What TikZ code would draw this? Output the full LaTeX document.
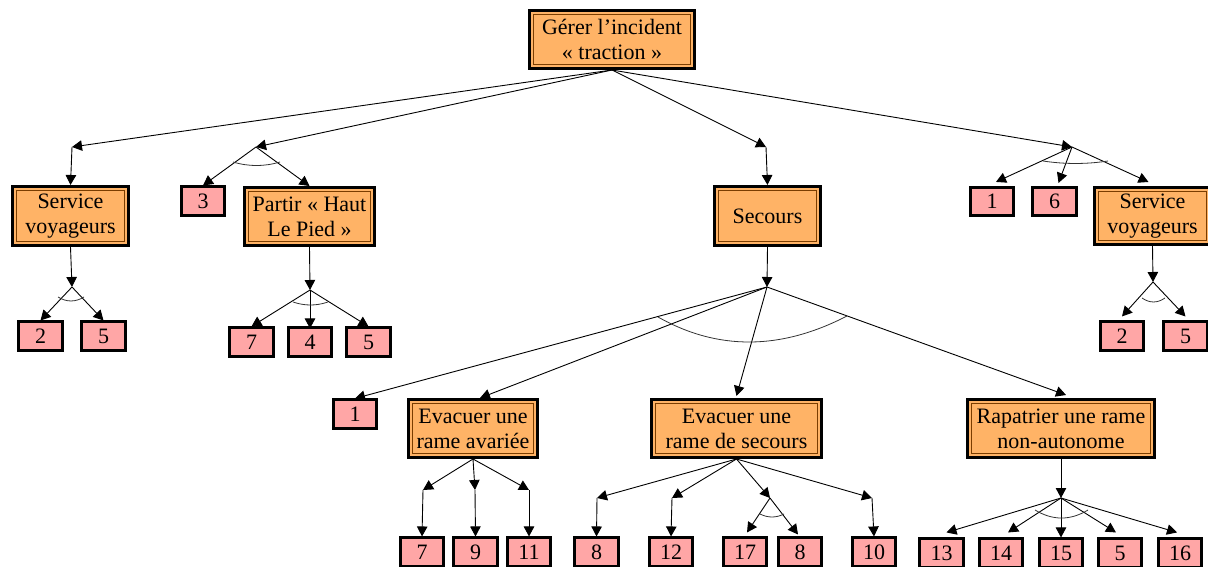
\documentclass[tikz,border=0pt]{standalone}
\usepackage{fontspec}
\setmainfont{Liberation Serif}
\usetikzlibrary{arrows.meta}
\definecolor{orng}{HTML}{FFB366}
\definecolor{pnk}{HTML}{FFA6A6}
\definecolor{brn}{HTML}{7A3D00}
\tikzset{
  obox/.style={draw=black, line width=3pt, fill=orng, inner sep=0pt, align=center,
    font=\fontsize{22}{25}\selectfont,
    path picture={\draw[brn, line width=0.9pt]
      ([shift={(4pt,-4pt)}]path picture bounding box.north west) rectangle
      ([shift={(-4pt,4pt)}]path picture bounding box.south east);}},
  pbox/.style={draw=black, line width=2.6pt, fill=pnk, inner sep=0pt,
    minimum width=43.5pt, minimum height=28.5pt, font=\fontsize{22}{25}\selectfont},
  conn/.style={line width=0.9pt, draw=black},
  arr/.style={conn, -{Triangle[length=10pt,width=10.5pt]}},
  andarc/.style={line width=0.8pt, draw=black!80}
}
\begin{document}
\begin{tikzpicture}[x=1pt,y=-1pt]
\useasboundingbox (0,0) rectangle (1208,567);
% main boxes
\node[obox, minimum width=165pt, minimum height=58pt] (root) at (612,39.5) {Gérer l’incident\\« traction »};
\node[obox, minimum width=116pt, minimum height=59pt] (svL) at (70.5,216) {Service\\voyageurs};
\node[obox, minimum width=130pt, minimum height=58pt] (partir) at (309.5,216.5) {Partir « Haut\\Le Pied »};
\node[obox, minimum width=106pt, minimum height=59pt] (secours) at (767.5,216) {Secours};
\node[obox, minimum width=116pt, minimum height=57pt] (svR) at (1152.5,216) {Service\\voyageurs};
\node[obox, minimum width=129pt, minimum height=58pt] (evA) at (473,428.5) {Evacuer une\\rame avariée};
\node[obox, minimum width=170pt, minimum height=58pt] (evS) at (736.5,428.5) {Evacuer une\\rame de secours};
\node[obox, minimum width=187pt, minimum height=58pt] (rap) at (1061,428.5) {Rapatrier une rame\\non-autonome};
% leaf boxes
\node[pbox] (n3) at (203,201) {3};
\node[pbox] (r1) at (992,201.5) {1};
\node[pbox] (r6) at (1054.5,201.5) {6};
\node[pbox] (L2) at (40.5,336) {2};
\node[pbox] (L5) at (103.5,336) {5};
\node[pbox] (P7) at (251.5,342) {7};
\node[pbox] (P4) at (310,342) {4};
\node[pbox] (P5) at (368.5,342) {5};
\node[pbox] (R2) at (1122,336) {2};
\node[pbox] (R5) at (1185.5,336) {5};
\node[pbox] (S1) at (355,414) {1};
\node[pbox] (A7) at (422,552) {7};
\node[pbox] (A9) at (475.5,552) {9};
\node[pbox] (A11) at (529,552) {11};
\node[pbox] (B8) at (596.5,552) {8};
\node[pbox] (B12) at (671,552) {12};
\node[pbox] (B17) at (745,552) {17};
\node[pbox] (B8b) at (800,552) {8};
\node[pbox] (B10) at (874,552) {10};
\node[pbox] (C13) at (941.5,553) {13};
\node[pbox] (C14) at (1001,553) {14};
\node[pbox] (C15) at (1061,553) {15};
\node[pbox] (C5) at (1120,553) {5};
\node[pbox] (C16) at (1180,553) {16};
% junction points
\coordinate (jSvL) at (72,147);
\coordinate (jP) at (256,147);
\coordinate (jSec) at (766,147);
\coordinate (jR) at (1072,147);
\coordinate (aL) at (72,287);
\coordinate (aP) at (310,290);
\coordinate (aS) at (767,287);
\coordinate (aR) at (1153,282);
\coordinate (a7) at (423,490);
\coordinate (a9) at (475,490);
\coordinate (a11) at (529,490);
\coordinate (b8) at (597,498);
\coordinate (b12) at (672,498);
\coordinate (bA) at (770,498);
\coordinate (b10) at (872,498);
\coordinate (aRap) at (1061,498);
% root connectors
\draw[arr] (root.south) -- (jSvL);
\draw[arr] (root.south) -- (jP);
\draw[arr] (root.south) -- (jSec);
\draw[arr] (root.south) -- (jR);
\draw[arr] (jSvL) -- (svL.north);
\draw[arr] (jP) -- (n3.north);
\draw[arr] (jP) -- (partir.north);
\draw[andarc] (233,162) .. controls (248.7,166.7) and (264.3,166.7) .. (280,162);
\draw[arr] (jSec) -- (secours.north);
\draw[arr] (jR) -- ([xshift=4pt,yshift=4pt]r1.north);
\draw[arr] (jR) -- ([xshift=4pt,yshift=3pt]r6.north);
\draw[arr] (jR) -- ([xshift=-4pt,yshift=4pt]svR.north);
\draw[andarc] (1043,161) .. controls (1064.7,164.3) and (1086.3,164.3) .. (1108,161);
% service voyageurs left
\draw[arr] (svL.south) -- (aL);
\draw[arr] (aL) -- (L2.north);
\draw[arr] (aL) -- (L5.north);
\draw[andarc] (58,297) .. controls (66.7,302.3) and (75.3,302.3) .. (84,297);
% partir
\draw[arr] (partir.south) -- (aP);
\draw[arr] (aP) -- (P7.north);
\draw[arr] (aP) -- ([yshift=-2pt]P4.north);
\draw[arr] (aP) -- (P5.north);
\draw[andarc] (293,302) .. controls (304.7,306) and (316.3,306) .. (328,302);
% service voyageurs right
\draw[arr] (svR.south) -- (aR);
\draw[arr] (aR) -- ([yshift=4pt]R2.north);
\draw[arr] (aR) -- ([yshift=4pt]R5.north);
\draw[andarc] (1142,298) .. controls (1149.7,303.3) and (1157.3,303.3) .. (1165,298);
% secours
\draw[arr] (secours.south) -- (aS);
\draw[arr] (aS) -- (S1.north);
\draw[arr] (aS) -- ([xshift=7pt]evA.north);
\draw[arr] (aS) -- ([yshift=2pt]evS.north);
\draw[arr] (aS) -- ([xshift=5pt,yshift=3pt]rap.north);
\draw[andarc] (658,317) .. controls (717.7,350.7) and (780.7,350.3) .. (847,316);
% evacuer avariee
\draw[arr] (evA.south) -- (a7);
\draw[arr] (evA.south) -- (a9);
\draw[arr] (evA.south) -- (a11);
\draw[arr] (a7) -- (A7.north);
\draw[arr] (a9) -- (A9.north);
\draw[arr] (a11) -- (A11.north);
% evacuer secours
\draw[arr] (evS.south) -- (b8);
\draw[arr] (evS.south) -- (b12);
\draw[arr] (evS.south) -- (bA);
\draw[arr] (evS.south) -- (b10);
\draw[arr] (b8) -- (B8.north);
\draw[arr] (b12) -- (B12.north);
\draw[arr] (b10) -- (B10.north);
\draw[arr] (bA) -- ([xshift=2pt,yshift=4pt]B17.north);
\draw[arr] (bA) -- ([xshift=-2pt,yshift=2pt]B8b.north);
\draw[andarc] (760,514) .. controls (768,518) and (776,518) .. (784,514);
% rapatrier
\draw[arr] (rap.south) -- (aRap);
\draw[arr] (aRap) -- ([xshift=5pt,yshift=5pt]C13.north);
\draw[arr] (aRap) -- ([xshift=7pt,yshift=5pt]C14.north);
\draw[arr] (aRap) -- (C15.north);
\draw[arr] (aRap) -- ([xshift=-4pt,yshift=5pt]C5.north);
\draw[arr] (aRap) -- ([xshift=-3pt,yshift=5pt]C16.north);
\draw[andarc] (1035,510) .. controls (1052.7,520.7) and (1070.3,520.7) .. (1088,510);
\end{tikzpicture}
\end{document}
